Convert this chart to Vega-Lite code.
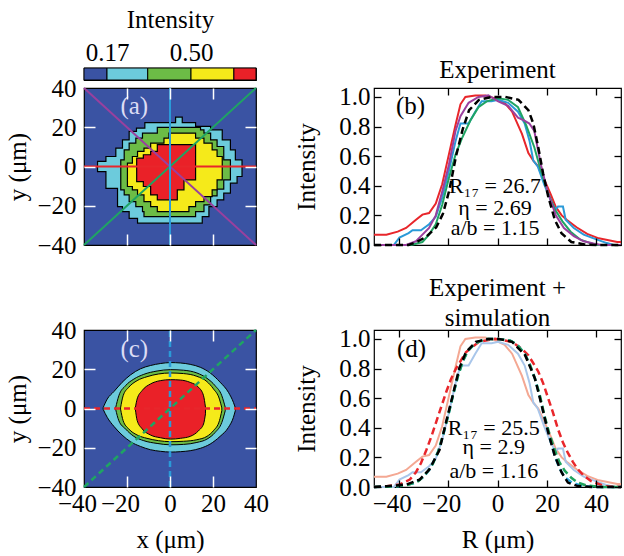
{
  "$schema": "https://vega.github.io/schema/vega-lite/v6.json",
  "padding": {"left": 5, "top": 6, "right": 0, "bottom": 0},
  "config": {
    "font": "Liberation Serif",
    "view": {"stroke": "black", "strokeWidth": 1.2},
    "axis": {"labelFontSize": 25, "titleFontSize": 25, "titleFontWeight": "normal", "labelColor": "black", "titleColor": "black", "domain": false, "grid": false, "labelFlush": false, "tickWidth": 1.3},
    "title": {"fontSize": 25, "fontWeight": "normal", "color": "black"}
  },
  "datasets": {
    "cbar": [
      {"lev": 0, "lo": 0, "hi": 0.17}, {"lev": 1, "lo": 0.17, "hi": 0.33}, {"lev": 2, "lo": 0.33, "hi": 0.5},
      {"lev": 3, "lo": 0.5, "hi": 0.83}, {"lev": 4, "lo": 0.83, "hi": 1}
    ],
    "amap": [
      {"lev": 1, "x": -33.7, "lo": -2.6, "hi": 2.6}, {"lev": 1, "x": -29.8, "lo": -11.1, "hi": 5.1},
      {"lev": 1, "x": -25.2, "lo": -11.1, "hi": 9.4}, {"lev": 1, "x": -24.4, "lo": -20.4, "hi": 9.4},
      {"lev": 1, "x": -22.1, "lo": -23.0, "hi": 13.6}, {"lev": 1, "x": -19.0, "lo": -26.4, "hi": 17.9},
      {"lev": 1, "x": -15.6, "lo": -26.4, "hi": 19.6}, {"lev": 1, "x": -15.1, "lo": -28.9, "hi": 19.6},
      {"lev": 1, "x": -11.7, "lo": -28.9, "hi": 22.4}, {"lev": 1, "x": 2.6, "lo": -28.9, "hi": 25.2},
      {"lev": 1, "x": 5.7, "lo": -28.9, "hi": 22.4}, {"lev": 1, "x": 11.9, "lo": -28.9, "hi": 20.4},
      {"lev": 1, "x": 15.0, "lo": -25.5, "hi": 20.4}, {"lev": 1, "x": 18.1, "lo": -20.4, "hi": 20.4},
      {"lev": 1, "x": 18.9, "lo": -20.4, "hi": 18.7}, {"lev": 1, "x": 21.9, "lo": -17.0, "hi": 18.7},
      {"lev": 1, "x": 24.3, "lo": -17.0, "hi": 13.6}, {"lev": 1, "x": 25.0, "lo": -13.6, "hi": 13.6},
      {"lev": 1, "x": 28.1, "lo": -8.5, "hi": 8.5}, {"lev": 1, "x": 30.4, "lo": -8.5, "hi": 3.4},
      {"lev": 1, "x": 31.2, "lo": -5.1, "hi": 3.4}, {"lev": 1, "x": 33.5, "lo": -5.1, "hi": 3.4},
      {"lev": 2, "x": -22.9, "lo": -11.9, "hi": 3.4}, {"lev": 2, "x": -21.3, "lo": -14.5, "hi": 8.5},
      {"lev": 2, "x": -19.0, "lo": -17.9, "hi": 11.9}, {"lev": 2, "x": -15.9, "lo": -20.4, "hi": 14.5},
      {"lev": 2, "x": -12.8, "lo": -23.0, "hi": 17.0}, {"lev": 2, "x": -12.1, "lo": -25.5, "hi": 17.0},
      {"lev": 2, "x": -5.9, "lo": -25.5, "hi": 19.9}, {"lev": 2, "x": 11.9, "lo": -23.0, "hi": 19.9},
      {"lev": 2, "x": 14.2, "lo": -23.0, "hi": 18.7}, {"lev": 2, "x": 15.8, "lo": -19.6, "hi": 17.0},
      {"lev": 2, "x": 18.9, "lo": -15.0, "hi": 13.6}, {"lev": 2, "x": 21.9, "lo": -11.5, "hi": 10.2},
      {"lev": 2, "x": 25.0, "lo": -6.8, "hi": 3.4}, {"lev": 2, "x": 28.1, "lo": -6.8, "hi": 3.4},
      {"lev": 3, "x": -19.8, "lo": -10.2, "hi": 1.7}, {"lev": 3, "x": -17.5, "lo": -11.9, "hi": 5.1},
      {"lev": 3, "x": -15.1, "lo": -14.5, "hi": 7.7}, {"lev": 3, "x": -12.1, "lo": -17.9, "hi": 9.4},
      {"lev": 3, "x": -9.0, "lo": -20.4, "hi": 11.9}, {"lev": 3, "x": -5.9, "lo": -23.0, "hi": 11.9},
      {"lev": 3, "x": -2.8, "lo": -23.0, "hi": 14.5}, {"lev": 3, "x": -0.5, "lo": -23.0, "hi": 17.0},
      {"lev": 3, "x": 8.8, "lo": -20.4, "hi": 17.0}, {"lev": 3, "x": 11.9, "lo": -17.9, "hi": 14.5},
      {"lev": 3, "x": 15.8, "lo": -15.3, "hi": 11.9}, {"lev": 3, "x": 19.6, "lo": -11.9, "hi": 8.5},
      {"lev": 3, "x": 21.9, "lo": -6.8, "hi": 5.1}, {"lev": 3, "x": 24.3, "lo": -6.8, "hi": 5.1},
      {"lev": 4, "x": -15.5, "lo": -7.7, "hi": 4.3}, {"lev": 4, "x": -12.4, "lo": -10.2, "hi": 6.0},
      {"lev": 4, "x": -9.0, "lo": -14.5, "hi": 7.7}, {"lev": 4, "x": -5.9, "lo": -17.0, "hi": 11.1},
      {"lev": 4, "x": 3.4, "lo": -11.9, "hi": 11.1}, {"lev": 4, "x": 6.5, "lo": -6.8, "hi": 11.1},
      {"lev": 4, "x": 11.9, "lo": -6.8, "hi": 11.1}
    ],
    "cmap": [
      {"lev": 1, "x": -31.1, "lo": -0.4, "hi": 0.4}, {"lev": 1, "x": -29.2, "lo": -4.5, "hi": 4.8},
      {"lev": 1, "x": -26.1, "lo": -9.1, "hi": 8.6}, {"lev": 1, "x": -22.3, "lo": -13.5, "hi": 13.3},
      {"lev": 1, "x": -18.4, "lo": -16.9, "hi": 17.1}, {"lev": 1, "x": -13.8, "lo": -19.3, "hi": 20.2},
      {"lev": 1, "x": -9.1, "lo": -21.0, "hi": 21.9}, {"lev": 1, "x": -4.5, "lo": -21.8, "hi": 22.9},
      {"lev": 1, "x": 0.2, "lo": -22.2, "hi": 23.4}, {"lev": 1, "x": 4.8, "lo": -22.0, "hi": 23.2},
      {"lev": 1, "x": 9.4, "lo": -21.5, "hi": 22.5}, {"lev": 1, "x": 14.1, "lo": -20.3, "hi": 21.0},
      {"lev": 1, "x": 18.7, "lo": -18.1, "hi": 18.1}, {"lev": 1, "x": 23.3, "lo": -14.2, "hi": 13.4},
      {"lev": 1, "x": 27.2, "lo": -9.6, "hi": 8.2}, {"lev": 1, "x": 29.5, "lo": -4.5, "hi": 3.1},
      {"lev": 1, "x": 30.4, "lo": -1.0, "hi": 0.3},
      {"lev": 2, "x": -25.3, "lo": -0.3, "hi": 0.3}, {"lev": 2, "x": -23.8, "lo": -6.2, "hi": 6.5},
      {"lev": 2, "x": -20.7, "lo": -10.4, "hi": 11.6}, {"lev": 2, "x": -16.8, "lo": -14.2, "hi": 15.0},
      {"lev": 2, "x": -12.2, "lo": -16.4, "hi": 17.4}, {"lev": 2, "x": -6.0, "lo": -17.8, "hi": 19.1},
      {"lev": 2, "x": 0.2, "lo": -18.5, "hi": 19.8}, {"lev": 2, "x": 6.3, "lo": -18.3, "hi": 19.5},
      {"lev": 2, "x": 12.5, "lo": -17.3, "hi": 18.1}, {"lev": 2, "x": 17.2, "lo": -15.6, "hi": 15.4},
      {"lev": 2, "x": 21.0, "lo": -12.2, "hi": 11.6}, {"lev": 2, "x": 24.1, "lo": -7.1, "hi": 6.5},
      {"lev": 2, "x": 25.7, "lo": -1.1, "hi": 0.6},
      {"lev": 3, "x": -23.0, "lo": -0.3, "hi": 0.3}, {"lev": 3, "x": -21.8, "lo": -6.2, "hi": 6.5},
      {"lev": 3, "x": -19.2, "lo": -10.4, "hi": 10.8}, {"lev": 3, "x": -15.3, "lo": -13.5, "hi": 14.2},
      {"lev": 3, "x": -10.7, "lo": -15.2, "hi": 16.2}, {"lev": 3, "x": -5.3, "lo": -16.4, "hi": 17.6},
      {"lev": 3, "x": 0.2, "lo": -16.9, "hi": 18.1}, {"lev": 3, "x": 6.3, "lo": -16.7, "hi": 17.8},
      {"lev": 3, "x": 12.5, "lo": -15.9, "hi": 16.4}, {"lev": 3, "x": 17.2, "lo": -14.2, "hi": 13.7},
      {"lev": 3, "x": 20.2, "lo": -11.3, "hi": 10.0}, {"lev": 3, "x": 23.0, "lo": -6.2, "hi": 4.8},
      {"lev": 3, "x": 24.1, "lo": -1.1, "hi": 0.3},
      {"lev": 4, "x": -16.1, "lo": -0.5, "hi": 0.5}, {"lev": 4, "x": -15.3, "lo": -6.0, "hi": 4.8},
      {"lev": 4, "x": -13.0, "lo": -10.3, "hi": 9.1}, {"lev": 4, "x": -9.1, "lo": -13.5, "hi": 12.5},
      {"lev": 4, "x": -4.5, "lo": -14.9, "hi": 14.2}, {"lev": 4, "x": 0.2, "lo": -15.6, "hi": 14.7},
      {"lev": 4, "x": 4.8, "lo": -15.2, "hi": 14.5}, {"lev": 4, "x": 9.4, "lo": -14.2, "hi": 13.3},
      {"lev": 4, "x": 13.3, "lo": -11.3, "hi": 10.8}, {"lev": 4, "x": 15.6, "lo": -7.9, "hi": 6.5},
      {"lev": 4, "x": 16.5, "lo": -2.7, "hi": 0.6}
    ],
    "alines": [
      {"id": "h", "x1": -40, "y1": 0, "x2": 40, "y2": 0},
      {"id": "d1", "x1": -40, "y1": -40, "x2": 40, "y2": 40},
      {"id": "d2", "x1": -40, "y1": 40, "x2": 40, "y2": -40},
      {"id": "v", "x1": 0, "y1": -40, "x2": 0, "y2": 40}
    ],
    "clines": [
      {"id": "h", "x1": -40, "y1": 0, "x2": 40, "y2": 0},
      {"id": "d1", "x1": -40, "y1": -40, "x2": 40, "y2": 40},
      {"id": "v", "x1": 0, "y1": -40, "x2": 0, "y2": 40}
    ],
    "prof": [
      {"s": "red", "R": -50, "I": 0.07}, {"s": "red", "R": -45, "I": 0.07}, {"s": "red", "R": -40.4, "I": 0.09},
      {"s": "red", "R": -37, "I": 0.115}, {"s": "red", "R": -33, "I": 0.17}, {"s": "red", "R": -30.4, "I": 0.205},
      {"s": "red", "R": -27.7, "I": 0.216}, {"s": "red", "R": -25, "I": 0.28}, {"s": "red", "R": -22.4, "I": 0.41},
      {"s": "red", "R": -19.7, "I": 0.61}, {"s": "red", "R": -17, "I": 0.81}, {"s": "red", "R": -15, "I": 0.95},
      {"s": "red", "R": -13, "I": 1.0}, {"s": "red", "R": -9, "I": 1.01}, {"s": "red", "R": -5, "I": 1.01},
      {"s": "red", "R": -1, "I": 0.99}, {"s": "red", "R": 2.9, "I": 0.96}, {"s": "red", "R": 5.9, "I": 0.9},
      {"s": "red", "R": 9.9, "I": 0.75}, {"s": "red", "R": 12.5, "I": 0.62}, {"s": "red", "R": 14.5, "I": 0.57},
      {"s": "red", "R": 16.5, "I": 0.53}, {"s": "red", "R": 19, "I": 0.44}, {"s": "red", "R": 21.6, "I": 0.34},
      {"s": "red", "R": 23.5, "I": 0.26}, {"s": "red", "R": 26, "I": 0.2}, {"s": "red", "R": 28, "I": 0.17},
      {"s": "red", "R": 32, "I": 0.12}, {"s": "red", "R": 36.3, "I": 0.075}, {"s": "red", "R": 41, "I": 0.045},
      {"s": "red", "R": 48.5, "I": 0.02}, {"s": "red", "R": 50, "I": 0.02},
      {"s": "blue", "R": -50, "I": 0}, {"s": "blue", "R": -42, "I": 0}, {"s": "blue", "R": -39.7, "I": 0.05},
      {"s": "blue", "R": -36, "I": 0.08}, {"s": "blue", "R": -34.4, "I": 0.1}, {"s": "blue", "R": -31, "I": 0.1},
      {"s": "blue", "R": -27.7, "I": 0.14}, {"s": "blue", "R": -25, "I": 0.19}, {"s": "blue", "R": -22.4, "I": 0.32},
      {"s": "blue", "R": -19.7, "I": 0.5}, {"s": "blue", "R": -17, "I": 0.7}, {"s": "blue", "R": -15, "I": 0.82},
      {"s": "blue", "R": -11.7, "I": 0.82}, {"s": "blue", "R": -9, "I": 0.9}, {"s": "blue", "R": -6.4, "I": 0.97},
      {"s": "blue", "R": -2.4, "I": 0.97}, {"s": "blue", "R": 0.3, "I": 0.98}, {"s": "blue", "R": 4.3, "I": 0.96},
      {"s": "blue", "R": 8.3, "I": 0.9}, {"s": "blue", "R": 11, "I": 0.82}, {"s": "blue", "R": 13, "I": 0.7},
      {"s": "blue", "R": 14.5, "I": 0.57}, {"s": "blue", "R": 16.3, "I": 0.53}, {"s": "blue", "R": 18.9, "I": 0.41},
      {"s": "blue", "R": 21.6, "I": 0.3}, {"s": "blue", "R": 23.5, "I": 0.24}, {"s": "blue", "R": 24.5, "I": 0.26},
      {"s": "blue", "R": 26.5, "I": 0.26}, {"s": "blue", "R": 27.6, "I": 0.17}, {"s": "blue", "R": 30.9, "I": 0.115},
      {"s": "blue", "R": 34.9, "I": 0.07}, {"s": "blue", "R": 40.3, "I": 0.036}, {"s": "blue", "R": 44.3, "I": 0.013},
      {"s": "blue", "R": 47, "I": 0}, {"s": "blue", "R": 50, "I": 0},
      {"s": "green", "R": -50, "I": 0}, {"s": "green", "R": -35, "I": 0}, {"s": "green", "R": -30.4, "I": 0.02},
      {"s": "green", "R": -27.7, "I": 0.07}, {"s": "green", "R": -25, "I": 0.14}, {"s": "green", "R": -22.4, "I": 0.27},
      {"s": "green", "R": -19.7, "I": 0.45}, {"s": "green", "R": -17, "I": 0.61}, {"s": "green", "R": -14.4, "I": 0.72},
      {"s": "green", "R": -11, "I": 0.84}, {"s": "green", "R": -7.7, "I": 0.93}, {"s": "green", "R": -4.4, "I": 0.97},
      {"s": "green", "R": 0.3, "I": 0.99}, {"s": "green", "R": 4.3, "I": 0.98}, {"s": "green", "R": 8.3, "I": 0.93},
      {"s": "green", "R": 11.6, "I": 0.81}, {"s": "green", "R": 14.9, "I": 0.66}, {"s": "green", "R": 17.6, "I": 0.5},
      {"s": "green", "R": 20.3, "I": 0.36}, {"s": "green", "R": 22.9, "I": 0.25}, {"s": "green", "R": 26.3, "I": 0.16},
      {"s": "green", "R": 29.6, "I": 0.09}, {"s": "green", "R": 33.6, "I": 0.036}, {"s": "green", "R": 37.6, "I": 0.013},
      {"s": "green", "R": 40, "I": 0}, {"s": "green", "R": 50, "I": 0},
      {"s": "purple", "R": -50, "I": 0}, {"s": "purple", "R": -37, "I": 0}, {"s": "purple", "R": -33, "I": 0.025},
      {"s": "purple", "R": -30.4, "I": 0.07}, {"s": "purple", "R": -27.7, "I": 0.115}, {"s": "purple", "R": -25, "I": 0.2},
      {"s": "purple", "R": -22.4, "I": 0.36}, {"s": "purple", "R": -19.7, "I": 0.54}, {"s": "purple", "R": -17, "I": 0.77},
      {"s": "purple", "R": -15, "I": 0.87}, {"s": "purple", "R": -11.7, "I": 0.96}, {"s": "purple", "R": -7.7, "I": 1.0},
      {"s": "purple", "R": -3.7, "I": 1.01}, {"s": "purple", "R": 0.3, "I": 0.97}, {"s": "purple", "R": 4.3, "I": 0.94},
      {"s": "purple", "R": 8.3, "I": 0.86}, {"s": "purple", "R": 10.9, "I": 0.84}, {"s": "purple", "R": 12.9, "I": 0.82},
      {"s": "purple", "R": 14.9, "I": 0.77}, {"s": "purple", "R": 17.6, "I": 0.54}, {"s": "purple", "R": 20.3, "I": 0.36},
      {"s": "purple", "R": 23.6, "I": 0.2}, {"s": "purple", "R": 26.9, "I": 0.115}, {"s": "purple", "R": 30.9, "I": 0.06},
      {"s": "purple", "R": 34.9, "I": 0.025}, {"s": "purple", "R": 38.9, "I": 0.01}, {"s": "purple", "R": 42, "I": 0},
      {"s": "purple", "R": 50, "I": 0},
      {"s": "black", "R": -50, "I": 0}, {"s": "black", "R": -36, "I": 0}, {"s": "black", "R": -32.8, "I": 0.02},
      {"s": "black", "R": -28.8, "I": 0.056}, {"s": "black", "R": -24.8, "I": 0.12}, {"s": "black", "R": -22.1, "I": 0.21},
      {"s": "black", "R": -19.5, "I": 0.37}, {"s": "black", "R": -16.8, "I": 0.6}, {"s": "black", "R": -14.1, "I": 0.78},
      {"s": "black", "R": -11.5, "I": 0.91}, {"s": "black", "R": -7.5, "I": 0.98}, {"s": "black", "R": -2.1, "I": 1.0},
      {"s": "black", "R": 3.2, "I": 1.0}, {"s": "black", "R": 8.5, "I": 0.98}, {"s": "black", "R": 12.5, "I": 0.91},
      {"s": "black", "R": 14.5, "I": 0.82}, {"s": "black", "R": 16.5, "I": 0.66}, {"s": "black", "R": 18.5, "I": 0.48},
      {"s": "black", "R": 20.5, "I": 0.33}, {"s": "black", "R": 23.2, "I": 0.17}, {"s": "black", "R": 25.9, "I": 0.08},
      {"s": "black", "R": 29.9, "I": 0.02}, {"s": "black", "R": 35.2, "I": 0.004}, {"s": "black", "R": 40, "I": 0},
      {"s": "black", "R": 50, "I": 0},
      {"s": "sred", "R": -50, "I": 0}, {"s": "sred", "R": -44.8, "I": 0.005}, {"s": "sred", "R": -39.5, "I": 0.017},
      {"s": "sred", "R": -35.5, "I": 0.05}, {"s": "sred", "R": -33, "I": 0.1}, {"s": "sred", "R": -31, "I": 0.16},
      {"s": "sred", "R": -28.8, "I": 0.25}, {"s": "sred", "R": -26.8, "I": 0.34}, {"s": "sred", "R": -24.8, "I": 0.44},
      {"s": "sred", "R": -22.8, "I": 0.54}, {"s": "sred", "R": -20.8, "I": 0.64}, {"s": "sred", "R": -18.8, "I": 0.73},
      {"s": "sred", "R": -16.8, "I": 0.8}, {"s": "sred", "R": -12.8, "I": 0.91}, {"s": "sred", "R": -7.5, "I": 0.98},
      {"s": "sred", "R": -1, "I": 1.0}, {"s": "sred", "R": 5.9, "I": 0.98}, {"s": "sred", "R": 10, "I": 0.93},
      {"s": "sred", "R": 12.5, "I": 0.89}, {"s": "sred", "R": 16.5, "I": 0.78}, {"s": "sred", "R": 18.5, "I": 0.7},
      {"s": "sred", "R": 20.5, "I": 0.6}, {"s": "sred", "R": 22.5, "I": 0.5}, {"s": "sred", "R": 24.5, "I": 0.39},
      {"s": "sred", "R": 26.5, "I": 0.3}, {"s": "sred", "R": 28.5, "I": 0.23}, {"s": "sred", "R": 30.5, "I": 0.17},
      {"s": "sred", "R": 32.5, "I": 0.12}, {"s": "sred", "R": 35, "I": 0.075}, {"s": "sred", "R": 37.9, "I": 0.04},
      {"s": "sred", "R": 43.2, "I": 0.006}, {"s": "sred", "R": 50, "I": 0},
      {"s": "sblue", "R": -50, "I": 0}, {"s": "sblue", "R": -40, "I": 0.005}, {"s": "sblue", "R": -34, "I": 0.025},
      {"s": "sblue", "R": -30, "I": 0.065}, {"s": "sblue", "R": -27, "I": 0.13}, {"s": "sblue", "R": -24, "I": 0.24},
      {"s": "sblue", "R": -22, "I": 0.35}, {"s": "sblue", "R": -20, "I": 0.48}, {"s": "sblue", "R": -18, "I": 0.62},
      {"s": "sblue", "R": -16, "I": 0.75}, {"s": "sblue", "R": -14, "I": 0.85}, {"s": "sblue", "R": -12, "I": 0.92},
      {"s": "sblue", "R": -9, "I": 0.97}, {"s": "sblue", "R": -5, "I": 1.0}, {"s": "sblue", "R": 0, "I": 1.0},
      {"s": "sblue", "R": 5, "I": 0.99}, {"s": "sblue", "R": 8, "I": 0.96}, {"s": "sblue", "R": 11, "I": 0.9},
      {"s": "sblue", "R": 13, "I": 0.83}, {"s": "sblue", "R": 15, "I": 0.74}, {"s": "sblue", "R": 17, "I": 0.62},
      {"s": "sblue", "R": 19, "I": 0.47}, {"s": "sblue", "R": 21, "I": 0.34}, {"s": "sblue", "R": 23, "I": 0.22},
      {"s": "sblue", "R": 25, "I": 0.13}, {"s": "sblue", "R": 27, "I": 0.07}, {"s": "sblue", "R": 30, "I": 0.03},
      {"s": "sblue", "R": 34, "I": 0.008}, {"s": "sblue", "R": 40, "I": 0}, {"s": "sblue", "R": 50, "I": 0},
      {"s": "sgreen", "R": -50, "I": 0}, {"s": "sgreen", "R": -42, "I": 0.004}, {"s": "sgreen", "R": -36, "I": 0.015},
      {"s": "sgreen", "R": -32, "I": 0.04}, {"s": "sgreen", "R": -30.1, "I": 0.07}, {"s": "sgreen", "R": -28, "I": 0.11},
      {"s": "sgreen", "R": -26.1, "I": 0.16}, {"s": "sgreen", "R": -24, "I": 0.24}, {"s": "sgreen", "R": -22.1, "I": 0.35},
      {"s": "sgreen", "R": -20, "I": 0.48}, {"s": "sgreen", "R": -18, "I": 0.62}, {"s": "sgreen", "R": -16, "I": 0.75},
      {"s": "sgreen", "R": -14, "I": 0.85}, {"s": "sgreen", "R": -12, "I": 0.92}, {"s": "sgreen", "R": -9, "I": 0.97},
      {"s": "sgreen", "R": -5, "I": 1.0}, {"s": "sgreen", "R": 0, "I": 1.0}, {"s": "sgreen", "R": 5, "I": 0.99},
      {"s": "sgreen", "R": 8, "I": 0.96}, {"s": "sgreen", "R": 11, "I": 0.9}, {"s": "sgreen", "R": 13, "I": 0.83},
      {"s": "sgreen", "R": 15, "I": 0.74}, {"s": "sgreen", "R": 17, "I": 0.63}, {"s": "sgreen", "R": 19.2, "I": 0.47},
      {"s": "sgreen", "R": 21, "I": 0.36}, {"s": "sgreen", "R": 23.2, "I": 0.25}, {"s": "sgreen", "R": 25, "I": 0.17},
      {"s": "sgreen", "R": 27.2, "I": 0.11}, {"s": "sgreen", "R": 30, "I": 0.06}, {"s": "sgreen", "R": 32.5, "I": 0.03},
      {"s": "sgreen", "R": 36, "I": 0.01}, {"s": "sgreen", "R": 42, "I": 0}, {"s": "sgreen", "R": 50, "I": 0},
      {"s": "sblack", "R": -50, "I": 0}, {"s": "sblack", "R": -44.8, "I": 0.005}, {"s": "sblack", "R": -36.8, "I": 0.017},
      {"s": "sblack", "R": -31.5, "I": 0.05}, {"s": "sblack", "R": -27.5, "I": 0.12}, {"s": "sblack", "R": -23.5, "I": 0.25},
      {"s": "sblack", "R": -20.8, "I": 0.44}, {"s": "sblack", "R": -18.1, "I": 0.62}, {"s": "sblack", "R": -15.5, "I": 0.8},
      {"s": "sblack", "R": -12.8, "I": 0.91}, {"s": "sblack", "R": -8.8, "I": 0.98}, {"s": "sblack", "R": -3.5, "I": 1.0},
      {"s": "sblack", "R": 0.5, "I": 1.0}, {"s": "sblack", "R": 5.9, "I": 0.98}, {"s": "sblack", "R": 11.2, "I": 0.89},
      {"s": "sblack", "R": 15.2, "I": 0.73}, {"s": "sblack", "R": 17.9, "I": 0.55}, {"s": "sblack", "R": 20.5, "I": 0.37},
      {"s": "sblack", "R": 23.2, "I": 0.21}, {"s": "sblack", "R": 25.9, "I": 0.1}, {"s": "sblack", "R": 28.5, "I": 0.03},
      {"s": "sblack", "R": 32.5, "I": 0.006}, {"s": "sblack", "R": 38, "I": 0}, {"s": "sblack", "R": 50, "I": 0}
    ]
  },
  "vconcat": [
    {
      "width": 172, "height": 12,
      "data": {"name": "cbar"},
      "mark": {"type": "rect", "stroke": "black", "strokeWidth": 1},
      "encoding": {
        "x": {"field": "lo", "type": "quantitative",
              "scale": {"domain": [0, 0.17, 0.5, 1], "range": [0, 23, 107, 172]},
              "axis": {"orient": "top", "values": [0.17, 0.5], "format": ".2f", "ticks": false, "labelPadding": 3, "title": "Intensity", "titlePadding": 8}},
        "x2": {"field": "hi"},
        "fill": {"field": "lev", "type": "ordinal", "scale": {"domain": [0, 1, 2, 3, 4], "range": ["#3a53a3", "#6ccbdc", "#6cbc46", "#f5ea1a", "#ea2128"]}, "legend": null}
      }
    },
    {
      "concat": [
        {
          "width": 172, "height": 157,
          "view": {"fill": "#3a53a3"},
          "layer": [
            {
              "data": {"name": "amap"},
              "mark": {"type": "area", "interpolate": "step-after", "stroke": "black", "strokeWidth": 1.2},
              "encoding": {
                "x": {"field": "x", "type": "quantitative", "scale": {"domain": [-40, 40], "nice": false},
                      "axis": {"values": [-20, 0, 20], "labels": false, "title": null, "tickSize": -11, "tickColor": "white", "tickWidth": 1.5, "zindex": 1}},
                "y": {"field": "hi", "type": "quantitative", "stack": null, "scale": {"domain": [-40, 40], "nice": false},
                      "axis": {"values": [-40, -20, 0, 20, 40], "tickSize": -11, "tickColor": "white", "tickWidth": 1.5,
                               "tickOpacity": {"condition": {"test": "abs(datum.value) >= 40", "value": 0}, "value": 1},
                               "labelPadding": 19, "title": "y (μm)", "titlePadding": 6, "zindex": 1}},
                "y2": {"field": "lo"},
                "fill": {"field": "lev", "type": "ordinal", "scale": {"domain": [1, 2, 3, 4], "range": ["#6ccbdc", "#6cbc46", "#f5ea1a", "#ea2128"]}, "legend": null}
              }
            },
            {
              "data": {"name": "alines"},
              "mark": {"type": "rule", "strokeWidth": 2},
              "encoding": {
                "x": {"field": "x1", "type": "quantitative", "scale": {"domain": [-40, 40], "nice": false},
                      "axis": {"orient": "top", "values": [-20, 0, 20], "labels": false, "title": null, "tickSize": -11, "tickColor": "white", "tickWidth": 1.5, "zindex": 1}},
                "y": {"field": "y1", "type": "quantitative", "scale": {"domain": [-40, 40], "nice": false},
                      "axis": {"orient": "right", "values": [-20, 0, 20], "labels": false, "title": null, "tickSize": -11, "tickColor": "white", "tickWidth": 1.5, "zindex": 1}},
                "x2": {"field": "x2"},
                "y2": {"field": "y2"},
                "stroke": {"field": "id", "type": "nominal", "scale": {"domain": ["h", "v", "d1", "d2"], "range": ["#e8262b", "#2a9ad8", "#1fa463", "#9a409e"]}, "legend": null}
              }
            },
            {
              "data": {"values": [{"x": -16.6, "y": 31, "t": "(a)"}]},
              "mark": {"type": "text", "fontSize": 25, "color": "#dcdcf4"},
              "encoding": {
                "x": {"field": "x", "type": "quantitative", "scale": {"domain": [-40, 40], "nice": false}, "axis": null},
                "y": {"field": "y", "type": "quantitative", "scale": {"domain": [-40, 40], "nice": false}, "axis": null},
                "text": {"field": "t"}
              }
            }
          ],
          "resolve": {"axis": {"x": "independent", "y": "independent"}}
        },
        {
          "width": 247, "height": 157,
          "title": {"text": "Experiment", "offset": 2},
          "layer": [
            {
              "data": {"name": "prof"},
              "transform": [{"filter": {"field": "s", "oneOf": ["red", "blue", "green", "purple"]}}],
              "mark": {"type": "line", "strokeWidth": 2},
              "encoding": {
                "x": {"field": "R", "type": "quantitative", "scale": {"domain": [-50, 50], "nice": false},
                      "axis": {"values": [-40, -20, 0, 20, 40], "labels": false, "title": null, "tickSize": -7, "tickColor": "black", "zindex": 1}},
                "y": {"field": "I", "type": "quantitative", "scale": {"domain": [0, 1.06], "nice": false},
                      "axis": {"values": [0, 0.2, 0.4, 0.6, 0.8, 1], "format": ".1f", "tickSize": -7, "tickColor": "black", "labelPadding": 11, "title": "Intensity", "titlePadding": 19, "zindex": 1}},
                "stroke": {"field": "s", "type": "nominal", "scale": {"domain": ["red", "blue", "green", "purple"], "range": ["#e5292d", "#2a7fc4", "#20a05c", "#8c3fa2"]}, "legend": null}
              }
            },
            {
              "data": {"name": "prof"},
              "transform": [{"filter": "datum.s == 'black'"}],
              "mark": {"type": "line", "strokeWidth": 2.5, "strokeDash": [7, 4], "color": "black"},
              "encoding": {
                "x": {"field": "R", "type": "quantitative", "scale": {"domain": [-50, 50], "nice": false},
                      "axis": {"orient": "top", "values": [-40, -20, 0, 20, 40], "labels": false, "title": null, "tickSize": -7, "tickColor": "black", "zindex": 1}},
                "y": {"field": "I", "type": "quantitative", "scale": {"domain": [0, 1.06], "nice": false},
                      "axis": {"orient": "right", "values": [0, 0.2, 0.4, 0.6, 0.8, 1], "labels": false, "title": null, "tickSize": -7, "tickColor": "black", "zindex": 1}}
              }
            },
            {
              "data": {"values": [
                {"R": -1, "I": 0.4, "t": "R₁₇ = 26.7", "f": 22},
                {"R": -1, "I": 0.25, "t": "η = 2.69", "f": 22},
                {"R": -1, "I": 0.115, "t": "a/b = 1.15", "f": 22},
                {"R": -35.2, "I": 0.94, "t": "(b)", "f": 25}
              ]},
              "mark": {"type": "text", "color": "black", "baseline": "middle"},
              "encoding": {
                "x": {"field": "R", "type": "quantitative", "scale": {"domain": [-50, 50], "nice": false}, "axis": null},
                "y": {"field": "I", "type": "quantitative", "scale": {"domain": [0, 1.06], "nice": false}, "axis": null},
                "text": {"field": "t"},
                "size": {"field": "f", "type": "quantitative", "scale": null}
              }
            }
          ],
          "resolve": {"axis": {"x": "independent", "y": "independent"}}
        },
        {
          "width": 172, "height": 157,
          "view": {"fill": "#3a53a3"},
          "layer": [
            {
              "data": {"name": "cmap"},
              "mark": {"type": "area", "interpolate": "monotone", "stroke": "black", "strokeWidth": 1},
              "encoding": {
                "x": {"field": "x", "type": "quantitative", "scale": {"domain": [-40, 40], "nice": false},
                      "axis": {"values": [-40, -20, 0, 20, 40], "tickSize": -11, "tickColor": "white", "tickWidth": 1.5,
                               "tickOpacity": {"condition": {"test": "abs(datum.value) >= 40", "value": 0}, "value": 1},
                               "labelOffset": {"condition": {"test": "datum.value < 0", "value": -7}, "value": 0},
                               "labelPadding": 15, "title": "x (μm)", "titlePadding": 11, "zindex": 1}},
                "y": {"field": "hi", "type": "quantitative", "stack": null, "scale": {"domain": [-40, 40], "nice": false},
                      "axis": {"values": [-40, -20, 0, 20, 40], "tickSize": -11, "tickColor": "white", "tickWidth": 1.5,
                               "tickOpacity": {"condition": {"test": "abs(datum.value) >= 40", "value": 0}, "value": 1},
                               "labelPadding": 19, "title": "y (μm)", "titlePadding": 6, "zindex": 1}},
                "y2": {"field": "lo"},
                "fill": {"field": "lev", "type": "ordinal", "scale": {"domain": [1, 2, 3, 4], "range": ["#6ccbdc", "#6cbc46", "#f5ea1a", "#ea2128"]}, "legend": null}
              }
            },
            {
              "data": {"name": "clines"},
              "mark": {"type": "rule", "strokeWidth": 2.5, "strokeDash": [6, 4]},
              "encoding": {
                "x": {"field": "x1", "type": "quantitative", "scale": {"domain": [-40, 40], "nice": false},
                      "axis": {"orient": "top", "values": [-20, 0, 20], "labels": false, "title": null, "tickSize": -11, "tickColor": "white", "tickWidth": 1.5, "zindex": 1}},
                "y": {"field": "y1", "type": "quantitative", "scale": {"domain": [-40, 40], "nice": false},
                      "axis": {"orient": "right", "values": [-20, 0, 20], "labels": false, "title": null, "tickSize": -11, "tickColor": "white", "tickWidth": 1.5, "zindex": 1}},
                "x2": {"field": "x2"},
                "y2": {"field": "y2"},
                "stroke": {"field": "id", "type": "nominal", "scale": {"domain": ["h", "v", "d1"], "range": ["#e8262b", "#2a9ad8", "#1fa463"]}, "legend": null}
              }
            },
            {
              "data": {"values": [{"x": -16.6, "y": 30.4, "t": "(c)"}]},
              "mark": {"type": "text", "fontSize": 25, "color": "#dcdcf4"},
              "encoding": {
                "x": {"field": "x", "type": "quantitative", "scale": {"domain": [-40, 40], "nice": false}, "axis": null},
                "y": {"field": "y", "type": "quantitative", "scale": {"domain": [-40, 40], "nice": false}, "axis": null},
                "text": {"field": "t"}
              }
            }
          ],
          "resolve": {"axis": {"x": "independent", "y": "independent"}}
        },
        {
          "width": 247, "height": 157,
          "title": {"text": ["Experiment +", "simulation"], "lineHeight": 30, "offset": -4},
          "layer": [
            {
              "data": {"name": "prof"},
              "transform": [{"filter": {"field": "s", "oneOf": ["red", "blue"]}}],
              "mark": {"type": "line", "strokeWidth": 2},
              "encoding": {
                "x": {"field": "R", "type": "quantitative", "scale": {"domain": [-50, 50], "nice": false},
                      "axis": {"values": [-40, -20, 0, 20, 40], "tickSize": -7, "tickColor": "black",
                               "labelOffset": {"condition": {"test": "datum.value < 0", "value": -7}, "value": 0},
                               "labelPadding": 11, "title": "R (μm)", "titlePadding": 11, "zindex": 1}},
                "y": {"field": "I", "type": "quantitative", "scale": {"domain": [0, 1.06], "nice": false},
                      "axis": {"values": [0, 0.2, 0.4, 0.6, 0.8, 1], "format": ".1f", "tickSize": -7, "tickColor": "black", "labelPadding": 11, "title": "Intensity", "titlePadding": 19, "zindex": 1}},
                "stroke": {"field": "s", "type": "nominal", "scale": {"domain": ["red", "blue"], "range": ["#f4a893", "#a9c6ea"]}, "legend": null}
              }
            },
            {
              "data": {"name": "prof"},
              "transform": [{"filter": {"field": "s", "oneOf": ["sred", "sblue", "sgreen", "sblack"]}}],
              "mark": {"type": "line", "strokeWidth": 2.5, "strokeDash": [7, 4]},
              "encoding": {
                "x": {"field": "R", "type": "quantitative", "scale": {"domain": [-50, 50], "nice": false},
                      "axis": {"orient": "top", "values": [-40, -20, 0, 20, 40], "labels": false, "title": null, "tickSize": -7, "tickColor": "black", "zindex": 1}},
                "y": {"field": "I", "type": "quantitative", "scale": {"domain": [0, 1.06], "nice": false},
                      "axis": {"orient": "right", "values": [0, 0.2, 0.4, 0.6, 0.8, 1], "labels": false, "title": null, "tickSize": -7, "tickColor": "black", "zindex": 1}},
                "stroke": {"field": "s", "type": "nominal", "scale": {"domain": ["sred", "sblue", "sgreen", "sblack"], "range": ["#e8262b", "#2aa6de", "#1fa35e", "#000000"]}, "legend": null}
              }
            },
            {
              "data": {"values": [
                {"R": -1.5, "I": 0.4, "t": "R₁₇ = 25.5", "f": 22},
                {"R": -1.5, "I": 0.27, "t": "η = 2.9", "f": 22},
                {"R": -1.5, "I": 0.105, "t": "a/b = 1.16", "f": 22},
                {"R": -34.8, "I": 0.935, "t": "(d)", "f": 25}
              ]},
              "mark": {"type": "text", "color": "black", "baseline": "middle"},
              "encoding": {
                "x": {"field": "R", "type": "quantitative", "scale": {"domain": [-50, 50], "nice": false}, "axis": null},
                "y": {"field": "I", "type": "quantitative", "scale": {"domain": [0, 1.06], "nice": false}, "axis": null},
                "text": {"field": "t"},
                "size": {"field": "f", "type": "quantitative", "scale": null}
              }
            }
          ],
          "resolve": {"axis": {"x": "independent", "y": "independent"}, "scale": {"stroke": "independent"}}
        }
      ],
      "columns": 2,
      "bounds": "flush",
      "spacing": {"row": 85, "column": 118}
    }
  ],
  "bounds": "flush",
  "spacing": 8
}
